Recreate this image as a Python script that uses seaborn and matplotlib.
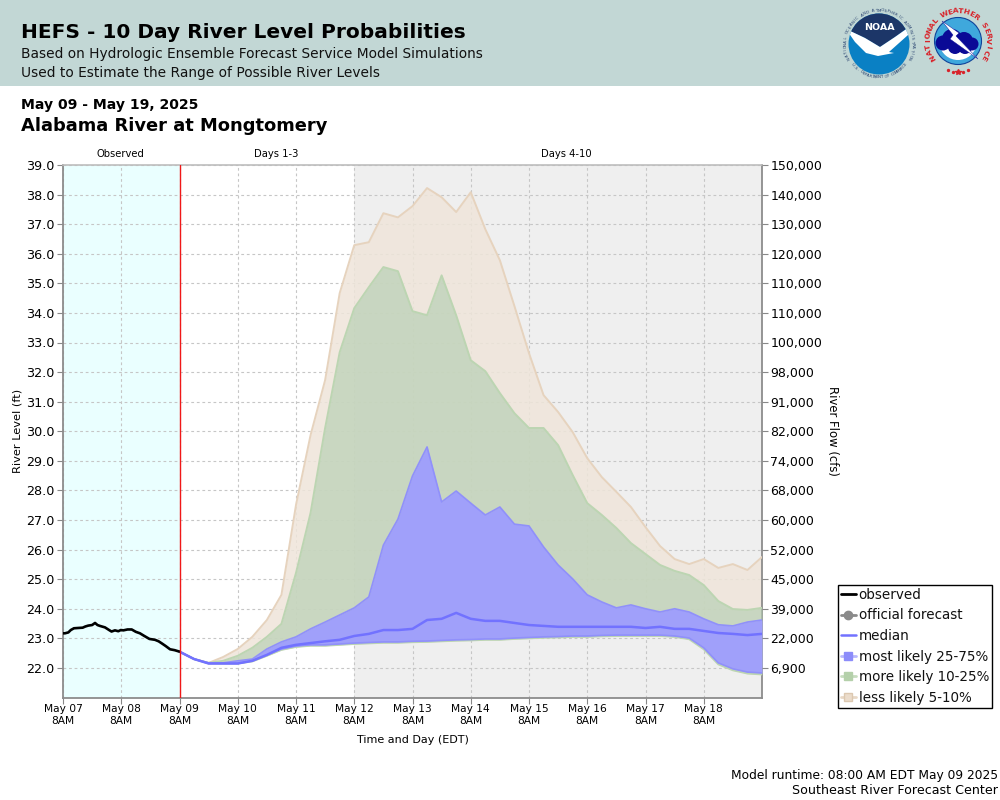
import numpy as np
import pandas as pd
import matplotlib
matplotlib.use("Agg")
import matplotlib.pyplot as plt
from matplotlib.lines import Line2D
from matplotlib.patches import Circle, Wedge, Rectangle, Polygon
import seaborn as sns

# ---------- data ----------
obs_hours = [0, 0.8, 2.2, 3.2, 4.5, 6.2, 8.1, 9.2, 10.4, 12, 13.2, 14.2, 15.2, 17.3, 19, 20, 21.4, 22.8, 23.8, 24.9,
             26.6, 28.3, 30, 31.7, 33.5, 35.6, 37.9, 39.4, 40.7, 42.3, 44.1, 46, 48]
obs_level = [23.17, 23.17, 23.20, 23.28, 23.34, 23.35, 23.36, 23.40, 23.43, 23.45, 23.52, 23.45, 23.42, 23.37, 23.28,
             23.23, 23.27, 23.24, 23.28, 23.27, 23.30, 23.30, 23.22, 23.17, 23.08, 22.98, 22.95, 22.90, 22.83, 22.74,
             22.63, 22.60, 22.55]

level_less_top = [22.55, 22.30, 22.17, 22.37, 22.64, 23.05, 23.62, 24.47, 27.51, 29.87, 31.73, 34.67, 36.29, 36.39,
                  37.37, 37.23, 37.61, 38.22, 37.91, 37.41, 38.08, 36.83, 35.78, 34.23, 32.64, 31.22, 30.65,
                  29.97, 29.09, 28.45, 27.95, 27.44, 26.76, 26.12, 25.68, 25.51, 25.68, 25.38, 25.51, 25.31, 25.75]
level_more_top = [22.55, 22.30, 22.17, 22.24, 22.41, 22.68, 23.05, 23.49, 25.21, 27.24, 30.11, 32.67, 34.16, 34.87,
                  35.55, 35.41, 34.06, 33.92, 35.27, 33.92, 32.40, 32.03, 31.29, 30.61, 30.11, 30.11, 29.53,
                  28.52, 27.57, 27.17, 26.73, 26.22, 25.85, 25.48, 25.28, 25.14, 24.80, 24.26, 23.99, 23.96, 24.03]
level_q75 = [22.55, 22.30, 22.17, 22.17, 22.24, 22.30, 22.64, 22.88, 23.05, 23.32, 23.55, 23.79, 24.03, 24.40,
             26.15, 27.03, 28.49, 29.47, 27.61, 27.98, 27.57, 27.17, 27.44, 26.86, 26.80, 26.09, 25.48,
             25.01, 24.47, 24.23, 24.03, 24.13, 24.00, 23.89, 24.00, 23.89, 23.66, 23.46, 23.42, 23.55, 23.62]
level_median = [22.55, 22.30, 22.15, 22.15, 22.15, 22.24, 22.44, 22.68, 22.78, 22.84, 22.90, 22.95, 23.08, 23.15,
                23.28, 23.28, 23.32, 23.62, 23.66, 23.86, 23.66, 23.59, 23.59, 23.52, 23.45, 23.42, 23.39,
                23.39, 23.39, 23.39, 23.39, 23.39, 23.35, 23.39, 23.32, 23.32, 23.25, 23.18, 23.15, 23.11, 23.15]
level_q25 = [22.55, 22.30, 22.15, 22.15, 22.15, 22.24, 22.44, 22.64, 22.74, 22.78, 22.78, 22.81, 22.84, 22.86,
             22.88, 22.88, 22.90, 22.91, 22.93, 22.95, 22.96, 22.98, 22.98, 23.01, 23.03, 23.05, 23.06,
             23.08, 23.08, 23.10, 23.11, 23.11, 23.11, 23.11, 23.08, 23.01, 22.68, 22.17, 21.97, 21.86, 21.83]
level_q10 = [22.55, 22.30, 22.15, 22.15, 22.15, 22.22, 22.41, 22.61, 22.71, 22.75, 22.75, 22.78, 22.81, 22.83,
             22.85, 22.85, 22.87, 22.88, 22.90, 22.92, 22.93, 22.95, 22.95, 22.98, 23.00, 23.02, 23.03,
             23.05, 23.05, 23.07, 23.08, 23.08, 23.08, 23.08, 23.05, 22.97, 22.63, 22.12, 21.92, 21.81, 21.78]

level_ticks = [22, 23, 24, 25, 26, 27, 28, 29, 30, 31, 32, 33, 34, 35, 36, 37, 38, 39]
flow_labels = ["6,900", "22,000", "39,000", "45,000", "52,000", "60,000", "68,000", "74,000", "82,000", "91,000",
               "98,000", "100,000", "110,000", "110,000", "120,000", "130,000", "140,000", "150,000"]
day_names = ["May 07", "May 08", "May 09", "May 10", "May 11", "May 12", "May 13", "May 14", "May 15", "May 16",
             "May 17", "May 18"]

# ---------- tables ----------
start = pd.Timestamp("2025-05-07 08:00")
fc_start = pd.Timestamp("2025-05-09 08:00")
obs_df = pd.DataFrame({"time": start + pd.to_timedelta(obs_hours, unit="h"), "level": obs_level})
fc_df = pd.DataFrame({"time": pd.date_range(fc_start, periods=len(level_median), freq="6h"),
                      "less": level_less_top, "more": level_more_top, "q75": level_q75,
                      "median": level_median, "q25": level_q25, "q10": level_q10})

sns.set_theme(style="white")
plt.rcParams["font.family"] = ["DejaVu Sans"]
W, H = 1000, 800
fig = plt.figure(figsize=(10, 8), dpi=100, facecolor="white")

# page overlay in pixel coordinates
page = fig.add_axes([0, 0, 1, 1], zorder=0)
page.set_xlim(0, W); page.set_ylim(H, 0); page.axis("off")
page.add_patch(Rectangle((0, 0), W, 85.5, fc="#C2D7D5", ec="none"))

ax = fig.add_axes([63 / W, 1 - 697.5 / H, 699 / W, 532.5 / H], zorder=1)
ax.patch.set_alpha(0)
x0, x1 = start, pd.Timestamp("2025-05-19 08:00")
ax.set_xlim(x0, x1); ax.set_ylim(21, 39)

ax.axvspan(x0, fc_start, color="#EAFFFF", lw=0, zorder=0)
ax.axvspan(pd.Timestamp("2025-05-12 08:00"), x1, color="#EFEFEF", lw=0, zorder=0)

day_ticks = pd.date_range(start, periods=len(day_names), freq="D")
ax.set_xticks(day_ticks)
ax.set_xticklabels([d + "\n8AM" for d in day_names], fontsize=7.7, linespacing=1.15, color="black")
ax.set_yticks(level_ticks)
ax.set_yticklabels([f"{v:.1f}" for v in level_ticks], fontsize=9.2, color="black")
ax.tick_params(axis="both", length=4, width=0.8, color="#888888", pad=2, left=True, bottom=True)
ax.tick_params(axis="x", pad=1)
ax.grid(True, color="#C6C6C6", ls=(0, (2.5, 2.5)), lw=0.8, zorder=1)
ax.set_axisbelow(True)

t = fc_df["time"]
ax.fill_between(t, fc_df["q10"], fc_df["less"], color="#EFE5DA", alpha=0.85, lw=0, zorder=2)
ax.fill_between(t, fc_df["q10"], fc_df["more"], color="#B4CEB2", alpha=0.65, lw=0, zorder=3)
ax.fill_between(t, fc_df["q25"], fc_df["q75"], color="#A0A0FA", alpha=1, lw=0, zorder=4)

sns.lineplot(data=fc_df, x="time", y="less", ax=ax, color="#E6D3BE", lw=1.4, zorder=3, errorbar=None)
sns.lineplot(data=fc_df, x="time", y="more", ax=ax, color="#BCD5B2", lw=1.4, zorder=3.5, errorbar=None)
sns.lineplot(data=fc_df, x="time", y="q10", ax=ax, color="#BCD5B2", lw=1.4, zorder=3.5, errorbar=None)
sns.lineplot(data=fc_df, x="time", y="q75", ax=ax, color="#9090FA", lw=1.2, zorder=5, errorbar=None)
sns.lineplot(data=fc_df, x="time", y="q25", ax=ax, color="#9090FA", lw=1.2, zorder=5, errorbar=None)
sns.lineplot(data=fc_df, x="time", y="median", ax=ax, color="#7272FF", lw=1.8, zorder=6, errorbar=None)
sns.lineplot(data=obs_df, x="time", y="level", ax=ax, color="black", lw=1.9, zorder=7, errorbar=None)
ax.axvline(fc_start, color="#F01818", lw=1.0, zorder=8)
ax.set_xlabel(""); ax.set_ylabel("")

for s in ["left", "right", "bottom"]:
    ax.spines[s].set_color("#8C8C8C"); ax.spines[s].set_linewidth(1.3)
ax.spines["top"].set_color("#BDBDBD"); ax.spines["top"].set_linewidth(1.2)

ax2 = ax.twinx()
ax2.set_ylim(21, 39)
ax2.set_yticks(level_ticks)
ax2.set_yticklabels(flow_labels, fontsize=9.0, color="black")
ax2.tick_params(axis="y", length=4, width=0.8, color="#888888", pad=2, right=True)
ax2.grid(False)
for s in ax2.spines.values():
    s.set_visible(False)

# texts
def txt(x, y, s, **kw):
    kw.setdefault("va", "center")
    return page.text(x, y, s, **kw)

txt(21, 33, "HEFS - 10 Day River Level Probabilities", fontsize=14.5, fontweight="bold", color="black")
txt(21, 54, "Based on Hydrologic Ensemble Forecast Service Model Simulations", fontsize=9.9, color="#111111")
txt(21, 73, "Used to Estimate the Range of Possible River Levels", fontsize=9.9, color="#111111")
txt(21, 105, "May 09 - May 19, 2025", fontsize=10.1, fontweight="bold", color="black")
txt(21, 126, "Alabama River at Mongtomery", fontsize=12.9, fontweight="bold", color="black")
txt(120, 154, "Observed", fontsize=7.2, ha="center", color="black")
txt(276, 154, "Days 1-3", fontsize=7.2, ha="center", color="black")
txt(566, 154, "Days 4-10", fontsize=7.2, ha="center", color="black")
txt(413, 740, "Time and Day (EDT)", fontsize=8, ha="center", color="black")
txt(18, 431, "River Level (ft)", fontsize=8.2, rotation=90, ha="center", color="black")
txt(832, 431, "River Flow (cfs)", fontsize=8.4, rotation=270, ha="center", color="black")
txt(998, 775, "Model runtime: 08:00 AM EDT May 09 2025", fontsize=8.85, ha="right", color="black")
txt(998, 791, "Southeast River Forecast Center", fontsize=9.05, ha="right", color="black")

# legend
handles = [
    Line2D([], [], color="black", lw=2),
    Line2D([], [], color="#8A8A8A", lw=2, marker="o", ms=6),
    Line2D([], [], color="#7272FF", lw=1.8),
    Line2D([], [], color="#B8B8FC", lw=2, marker="s", ms=6, mfc="#8C8CFA", mec="#8C8CFA"),
    Line2D([], [], color="#C6DCBE", lw=2, marker="s", ms=6, mfc="#B4D0AA", mec="#B4D0AA"),
    Line2D([], [], color="#E8D8C6", lw=2, marker="s", ms=6, mfc="#EBDCCB", mec="#DCC8B0"),
]
labels = ["observed", "official forecast", "median", "most likely 25-75%", "more likely 10-25%", "less likely 5-10%"]
leg = fig.legend(handles, labels, loc="lower left", bbox_to_anchor=(838 / W, 1 - 707.5 / H), fontsize=9.75,
                 frameon=True, fancybox=False, framealpha=1, edgecolor="black", handlelength=1.1,
                 handletextpad=0.22, borderpad=0.2, labelspacing=0.49, borderaxespad=0, labelcolor="#111111")
leg.get_frame().set_linewidth(1.0)

# NOAA logo (pixel coordinates)
cx, cy = 879, 44
disc = Circle((cx, cy), 30.5, fc="#0A80C4", ec="none")
page.add_patch(disc)
navy = Polygon([(845, 5), (915, 5), (915, 26), (910, 26), (895, 37), (880, 47), (865, 38), (848, 30), (845, 30)],
               fc="#1C3668", ec="none")
page.add_patch(navy); navy.set_clip_path(disc)
bird = Polygon([(846, 29), (865, 38), (880, 47), (895, 37), (912, 25), (908, 35), (889, 52), (894, 53), (878, 56),
                (866, 53), (855, 42)], fc="white", ec="none")
page.add_patch(bird); bird.set_clip_path(disc)
txt(cx, 27, "NOAA", fontsize=6.8, fontweight="bold", ha="center", color="white")
ring = "NATIONAL OCEANIC AND ATMOSPHERIC ADMINISTRATION"
for i, ch in enumerate(ring):
    a = np.deg2rad(205 - i * 230 / (len(ring) - 1))
    txt(cx + 33.5 * np.cos(a), cy - 33.5 * np.sin(a), ch, fontsize=2.9, ha="center", color="#26406E",
        rotation=np.rad2deg(a) - 90, rotation_mode="anchor")
ring = "U.S. DEPARTMENT OF COMMERCE"
for i, ch in enumerate(ring):
    a = np.deg2rad(218 + i * 104 / (len(ring) - 1))
    txt(cx + 33.5 * np.cos(a), cy - 33.5 * np.sin(a), ch, fontsize=2.9, ha="center", color="#26406E",
        rotation=np.rad2deg(a) + 90, rotation_mode="anchor")

# NWS logo
cx, cy = 958, 41
sky = Circle((cx, cy), 23.5, fc="#3FA8DC", ec="#10449A", lw=0.8)
page.add_patch(sky)
page.add_patch(Wedge((cx, cy), 19, 10, 170, fc="white", ec="none"))
for dx, dy, r in [(-15, 2, 7.5), (-6, -2, 10), (6, 0, 9), (14, 3, 6.5), (-3, 6, 7), (7, 6, 7)]:
    c = Circle((cx + dx, cy + dy), r, fc="#0A0A96", ec="none")
    page.add_patch(c); c.set_clip_path(sky)
page.add_patch(Polygon([(942, 21), (959, 33), (956, 36), (978, 59), (950, 39), (953, 35)],
                       fc="white", ec="#0A0A96", lw=0.3))
ring = "NATIONAL WEATHER SERVICE"
for i, ch in enumerate(ring):
    a = np.deg2rad(212 - i * 244 / (len(ring) - 1))
    txt(cx + 30 * np.cos(a), cy - 30 * np.sin(a), ch, fontsize=5.4, fontweight="bold", ha="center",
        color="#D8232A", rotation=np.rad2deg(a) - 90, rotation_mode="anchor")
page.plot([948, 953, 963, 968], [70, 71.5, 71.5, 70], ls="", marker="o", ms=1.4, color="#D8232A")
page.plot([958], [72], ls="", marker="*", ms=4, color="#D8232A")

fig.savefig("out.png", dpi=100)
